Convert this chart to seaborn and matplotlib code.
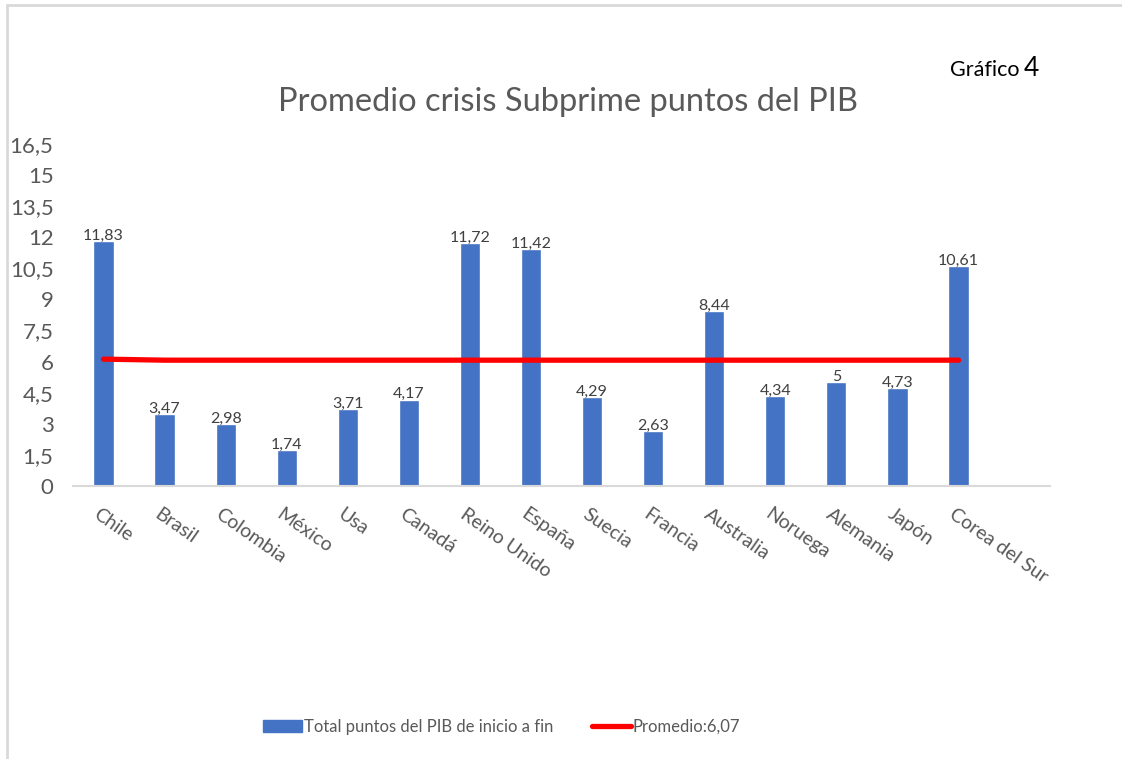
import numpy as np
import matplotlib
matplotlib.use("Agg")
import matplotlib.pyplot as plt
import matplotlib.transforms as mtrans
import seaborn as sns
from matplotlib.lines import Line2D
from matplotlib.patches import Patch

paises = ["Chile", "Brasil", "Colombia", "México", "Usa", "Canadá", "Reino Unido",
          "España", "Suecia", "Francia", "Australia", "Noruega", "Alemania", "Japón",
          "Corea del Sur"]
total_pib = [11.83, 3.47, 2.98, 1.74, 3.71, 4.17, 11.72, 11.42, 4.29, 2.63, 8.44,
             4.34, 5.00, 4.73, 10.61]
promedio = [6.12, 6.07, 6.07, 6.07, 6.07, 6.07, 6.07, 6.07, 6.07, 6.07, 6.07,
            6.07, 6.07, 6.07, 6.07]
y_ticks = [0, 1.5, 3, 4.5, 6, 7.5, 9, 10.5, 12, 13.5, 15, 16.5]

sns.set_style("white")
plt.rcParams["font.family"] = ["Lato", "DejaVu Sans"]

azul = "#4472C4"
rojo = "#FF0000"
gris = "#595959"

fig = plt.figure(figsize=(11.22, 7.59), dpi=100)
ax = fig.add_axes([0.065, 0.3597, 0.871, 0.4506])

sns.barplot(x=paises, y=total_pib, color=azul, width=0.33, saturation=1, ax=ax)
ax.plot(np.arange(len(paises)), promedio, color=rojo, linewidth=3.8,
        solid_capstyle="round")

# etiquetas de valor
for i, v in enumerate(total_pib):
    ax.text(i, v - 0.08, f"{v:g}".replace(".", ","), ha="center", va="bottom",
            fontsize=11.5, color="#404040")

ax.set_xlim(-0.5, 15.5)
ax.set_ylim(0, 16.5)
ax.set_yticks(y_ticks)
ax.set_yticklabels([f"{t:g}".replace(".", ",") for t in y_ticks], fontsize=16,
                   color=gris)
ax.tick_params(axis="y", length=0, pad=14)
ax.set_xticks(range(len(paises)))
ax.set_xticklabels(paises, rotation=-35, ha="left", va="top",
                   rotation_mode="anchor", fontsize=14, color=gris)
ax.tick_params(axis="x", length=0, pad=14)
for t in ax.get_xticklabels():
    t.set_transform(t.get_transform() + mtrans.ScaledTranslation(
        -3 / 100, 0, fig.dpi_scale_trans))

for s in ["top", "right", "left"]:
    ax.spines[s].set_visible(False)
ax.spines["bottom"].set_color("#D9D9D9")
ax.spines["bottom"].set_linewidth(1.5)

fig.text(0.506, 0.865, "Promedio crisis Subprime puntos del PIB", ha="center",
         va="center", fontsize=23.5, color=gris)
fig.text(0.847, 0.9, "Gráfico", ha="left", va="baseline", fontsize=15.5,
         color="black")
fig.text(0.912, 0.9, "4", ha="left", va="baseline", fontsize=19, color="black")

handles = [Patch(facecolor=azul, edgecolor=azul),
           Line2D([0], [0], color=rojo, linewidth=3.8, solid_capstyle="round")]
etiquetas = ["Total puntos del PIB de inicio a fin", "Promedio:6,07"]
fig.legend(handles, etiquetas, loc="center", bbox_to_anchor=(0.447, 0.042), ncol=2,
           frameon=False, fontsize=12, labelcolor=gris, handlelength=2.35,
           handletextpad=0.1, columnspacing=2.3)

fig.add_artist(Line2D([0.0065, 0.0065], [0, 0.993], color="#D9D9D9", linewidth=2))
fig.add_artist(Line2D([0.0065, 1.0], [0.993, 0.993], color="#D9D9D9", linewidth=2))

fig.savefig("out.png", dpi=100, facecolor="white")
